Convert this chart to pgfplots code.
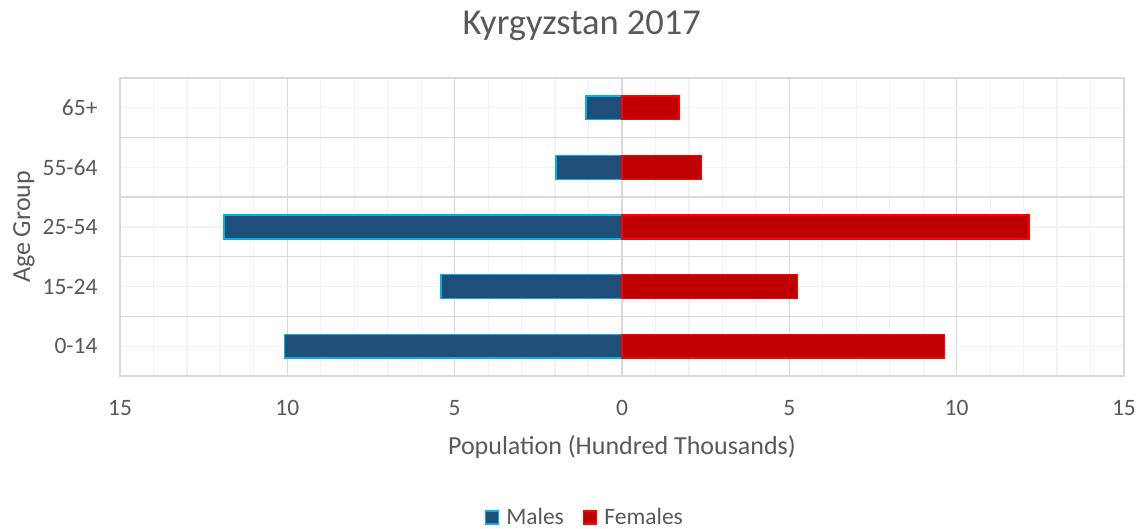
\documentclass[border=0pt]{standalone}
\usepackage{fontspec}
\setmainfont{Carlito}
\usepackage{pgfplots}
\pgfplotsset{compat=1.18}
\definecolor{txt}{HTML}{595959}
\definecolor{majg}{HTML}{D9D9D9}
\definecolor{ming}{HTML}{F2F2F2}
\definecolor{mfill}{HTML}{1F4E79}
\definecolor{mline}{HTML}{00B0F0}
\definecolor{ffill}{HTML}{C00000}
\definecolor{fline}{HTML}{FF0000}
\begin{document}
\begin{tikzpicture}
\path[use as bounding box] (0pt,0pt) rectangle (1142pt,529pt);
\begin{axis}[
  at={(120pt,153pt)}, anchor=south west,
  scale only axis, width=1004pt, height=298pt,
  xmin=-15, xmax=15, ymin=-0.5, ymax=4.5,
  xbar, bar shift=0pt, bar width=0.4,
  xtick={-15,-10,-5,0,5,10,15},
  xticklabels={15,10,5,0,5,10,15},
  minor xtick={-14,...,14},
  ytick={0,1,2,3,4},
  yticklabels={0-14,15-24,25-54,55-64,65+},
  minor ytick={-0.5,0.5,1.5,2.5,3.5,4.5},
  xmajorgrids, xminorgrids, ymajorgrids, yminorgrids,
  major x grid style={majg, line width=1.4pt},
  minor x grid style={ming, line width=1.2pt},
  major y grid style={ming, line width=1.2pt},
  minor y grid style={majg, line width=1.4pt},
  major tick length=0pt, minor tick length=0pt,
  axis line style={majg, line width=1.4pt},
  tick label style={txt, font=\fontsize{23.5}{26}\selectfont},
  xticklabel style={yshift=-21pt},
  yticklabel style={xshift=-19pt},
  xlabel={Population (Hundred Thousands)},
  ylabel={Age Group},
  label style={txt, font=\fontsize{26}{30}\selectfont},
  xlabel style={at={(axis description cs:0.5,-0.24)}, anchor=center},
  ylabel style={at={(axis description cs:-0.0956,0.5)}, anchor=center, rotate=0},
  title={Kyrgyzstan 2017},
  title style={txt, font=\fontsize{36.5}{40}\selectfont, at={(axis description cs:0.46,1.155)}, anchor=center},
  legend style={draw=none, fill=none, at={(axis description cs:0.463,-0.475)}, anchor=center,
    font=\fontsize{23.5}{26}\selectfont, text=txt, legend columns=2,
    /tikz/every even column/.append style={column sep=17pt}},
  legend image code/.code={\draw[#1, line width=1.5pt] (0pt,-6.5pt) rectangle (13pt,6.5pt); \path (18pt,0pt);},
]
\addplot[fill=mfill, draw=mline, line width=1.5pt] coordinates {(-10.09,0) (-5.41,1) (-11.89,2) (-1.97,3) (-1.07,4)};
\addlegendentry{Males}
\addplot[fill=ffill, draw=fline, line width=1.5pt] coordinates {(9.64,0) (5.25,1) (12.16,2) (2.38,3) (1.70,4)};
\addlegendentry{Females}
\end{axis}
\end{tikzpicture}
\end{document}
